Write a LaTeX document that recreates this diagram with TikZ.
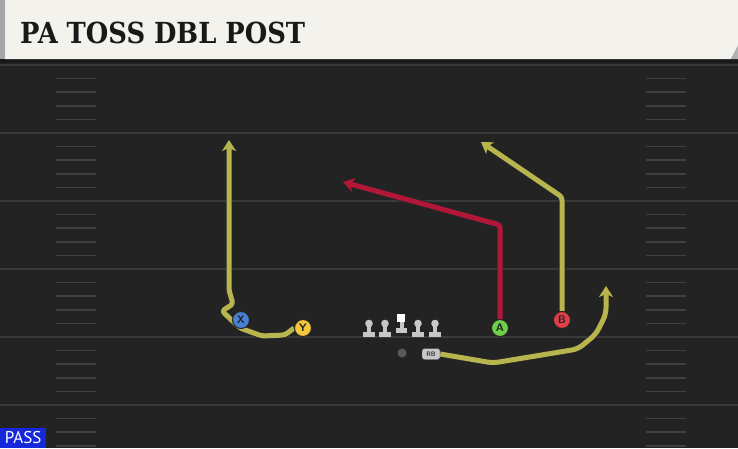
\documentclass[tikz,border=0pt]{standalone}
\usepackage{fontspec}
\usepackage{xcolor}
\usetikzlibrary{arrows.meta}
\newfontfamily\titlefont{DejaVu Serif}
\newfontfamily\tagfont{PT Sans}
\definecolor{fieldgray}{RGB}{35, 35, 35}
\definecolor{yardgray}{RGB}{58, 58, 58}
\definecolor{hashgray}{RGB}{64, 64, 64}
\definecolor{headercream}{RGB}{244, 242, 236}
\definecolor{routeolive}{RGB}{184, 180, 78}
\definecolor{routecrimson}{RGB}{178, 22, 56}
\definecolor{playerblue}{RGB}{74, 128, 216}
\definecolor{playeryellow}{RGB}{244, 200, 60}
\definecolor{playergreen}{RGB}{110, 208, 72}
\definecolor{playerred}{RGB}{226, 62, 72}
\definecolor{linegray}{RGB}{200, 200, 200}
\definecolor{passblue}{RGB}{22, 40, 220}
\pgfdeclarelayer{field}
\pgfdeclarelayer{routes}
\pgfsetlayers{field,routes,main}

\begin{document}
\begin{tikzpicture}[x=1pt,y=-1pt,
	route/.style={line width=5pt, line join=round, rounded corners=3pt,
		-{Stealth[length=11pt,width=14pt,inset=3pt]},
		preaction={draw=black!85, line width=6.5pt}},
	player/.style={circle, draw=black!85, line width=1pt, minimum size=17pt, inner sep=0pt,
		font=\sffamily\bfseries\fontsize{11}{11}\selectfont, text=black!85},
	rbbox/.style={rounded corners=2.5pt, fill=linegray, draw=black!70, minimum width=18pt, minimum height=11pt, inner sep=0pt,
		font=\sffamily\bfseries\fontsize{6.5}{6.5}\selectfont, text=black!80},
	]
		\useasboundingbox (0,0) rectangle (738,448);
		\begin{pgfonlayer}{field}
		% field
		\fill[fieldgray] (0,0) rectangle (738,448);
		\foreach \yy in {65,133,201,269,337,405}
			\draw[yardgray, line width=2pt] (0,\yy) -- (738,\yy);
		% hash marks
		\foreach \k in {1,...,28}{
			\pgfmathtruncatemacro{\rest}{mod(\k,5)}
			\ifnum\rest>0
				\draw[hashgray, line width=1.6pt] (56,65+13.6*\k) -- (96,65+13.6*\k);
				\draw[hashgray, line width=1.6pt] (646,65+13.6*\k) -- (686,65+13.6*\k);
			\fi
		}
		\end{pgfonlayer}
		
		% header
		\fill[black!90] (0,56) rectangle (738,63);
		\fill[gray!70] (0,0) rectangle (5,59);
		\fill[headercream] (5,0) -- (738,0) -- (738,46) -- (731,59) -- (5,59) -- cycle;
		\fill[gray!60] (738,46) -- (738,59) -- (731,59) -- cycle;
		\node[anchor=base west, inner sep=0pt, font=\titlefont\bfseries\fontsize{29}{29}\selectfont, text=black!90] (title) at (20,43) {\scalebox{0.89}[1]{PA TOSS DBL POST}};
		
		% players
		\node[player, fill=playerblue] (X) at (241,320) {X};
		\node[player, fill=playeryellow] (Y) at (303,328) {Y};
		\node[player, fill=playergreen] (A) at (500,328) {A};
		\node[player, fill=playerred] (B) at (562,320) {B};
		\node[circle, fill=gray!70!black, minimum size=9pt, inner sep=0pt] (QB) at (402,353) {};
		\node[rbbox] (RB) at (431,354) {RB};
		
		% routes
		\coordinate (Xend) at (229,140);
		\coordinate (Aend) at (343,182);
		\coordinate (Bend) at (481,142);
		\coordinate (RBend) at (606,286);
		\begin{pgfonlayer}{routes}
		\draw[route, routeolive] (Y.west) -- (285,335) -- (262,336) -- (240,328) -- (222,311) -- (233,304) -- (229,290) -- (Xend);
		\draw[route, routecrimson] (A.north) -- (500,225) -- (Aend);
		\draw[route, routeolive] (B.north) -- (562,197) -- (Bend);
		\draw[route, routeolive, rounded corners=6pt] (RB.east) -- (493,363) -- (578,349) -- (596,334) -- (606,314) -- (RBend);
		\end{pgfonlayer}
		
		% line
		\foreach \xx in {369,385,418,435}{
			\fill[linegray] (\xx-6,332) rectangle (\xx+6,337);
			\fill[linegray] (\xx-2,324) rectangle (\xx+2,333);
			\fill[linegray] (\xx,323.5) circle (3.8pt);
		}
		\fill[linegray] (396,328) rectangle (407,333);
		\fill[linegray] (399.5,321) rectangle (403.5,329);
		\fill[white] (397,314) rectangle (405,322);
		
		% play tag
		\node[fill=passblue, anchor=south west, minimum width=46pt, minimum height=20pt, inner sep=0pt,
			font=\tagfont\fontsize{17}{17}\selectfont, text=white] (tag) at (0,448) {PASS};
	\end{tikzpicture}
\end{document}
